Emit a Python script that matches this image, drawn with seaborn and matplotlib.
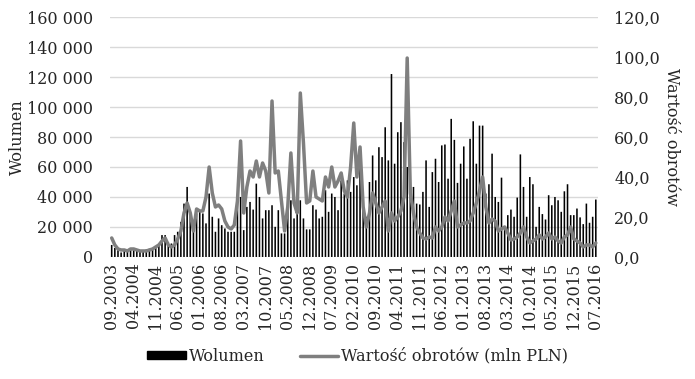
import pandas as pd
import numpy as np
import seaborn as sns
import matplotlib.pyplot as plt
from matplotlib.ticker import FuncFormatter
from matplotlib.patches import Patch
from matplotlib.lines import Line2D

# wolumen miesięczny (tys. szt.)
wolumen_tys = [
    8.0, 6.0, 4.5, 3.0, 4.0, 3.5, 5.0, 4.5, 4.0, 4.0, 3.5, 5.0, 5.5, 5.0, 7.0, 9.0,
    14.6, 14.6, 10.0, 9.0, 14.6, 16.8, 23.4, 35.6, 46.7, 29.0,
    17.9, 29.0, 30.1, 29.0, 22.4, 42.3, 26.8, 16.8, 25.7, 21.2,
    19.0, 16.8, 16.8, 16.8, 39.0, 40.0, 17.9, 33.4, 36.7, 31.6,
    48.9, 40.0, 25.7, 31.2, 31.2, 34.5, 20.1, 31.2,
    15.7, 15.7, 33.4, 37.8, 25.7, 34.5, 37.8, 25.7, 18.4, 18.4,
    34.5, 31.6, 25.7, 26.8, 44.5, 30.1, 42.3, 40.0, 31.2, 51.1,
    42.3, 51.1, 43.4, 53.3, 47.8, 64.4, 33.4, 26.8, 50.0, 67.7,
    51.1, 73.2, 66.6, 86.5, 64.4, 122.0, 62.2, 83.2, 89.9, 76.6,
    60.0, 41.2, 46.7, 35.6, 35.0, 43.4, 64.4, 33.4, 56.6, 65.5,
    50.0, 74.4, 75.0, 52.2, 92.1, 78.1, 49.4, 62.2, 73.7, 52.2,
    78.8, 90.5, 62.2, 87.6, 87.6, 42.3, 48.5, 68.9, 40.0, 36.7,
    52.9, 20.6, 27.9, 31.6, 26.8, 39.6, 68.4, 46.7, 26.8, 53.3,
    48.5, 20.1, 33.4, 28.6, 25.0, 41.2, 34.5, 40.0, 37.8, 30.1,
    43.8, 48.5, 27.9, 27.9, 32.3, 26.4, 21.9, 35.6, 22.8, 26.8, 38.3,
]

# wartość obrotów (mln PLN)
obroty = [
    9.5, 6, 4, 3.5, 3.5, 3, 4, 4, 3.5, 3,
    3, 3, 3.5, 4, 5, 6, 8, 9.5, 6, 5,
    6, 9, 13, 22, 27, 22, 13, 24, 23, 23,
    30, 45, 32, 25, 26, 24, 18, 15, 14, 16,
    28, 58, 22, 35, 43, 40, 48, 40, 47, 43,
    32, 78, 42, 43, 28, 13, 25, 52, 27, 22,
    82, 57, 27, 28, 43, 30, 29, 28, 40, 35,
    45, 35, 38, 42, 33, 30, 45, 67, 40, 55,
    25, 15, 22, 32, 27, 22, 25, 28, 13, 22,
    18, 20, 23, 30, 99.5, 32, 22, 15, 12, 9.5,
    9, 10, 9.5, 15, 13, 15, 20, 18, 23, 28,
    15, 16, 17, 17, 18, 22, 27, 33, 40, 25,
    17, 19, 18, 13, 14, 15, 12, 8.5, 9, 10,
    12, 15, 10, 7, 8, 9, 11, 9, 10, 12,
    9, 10, 8, 7, 10, 11, 15, 9, 8, 7,
    5, 6, 6, 5, 7,
]

miesiace = pd.date_range("2003-09-01", periods=len(wolumen_tys), freq="MS").strftime("%m.%Y")

df = pd.DataFrame({
    "miesiac": miesiace,
    "wolumen": np.array(wolumen_tys) * 1000,
    "obroty": obroty,
})
df["poz"] = df.index

sns.set_theme(style="white")
plt.rcParams["font.family"] = ["DejaVu Serif"]
fs = 11.5

fig, ax = plt.subplots(figsize=(6.95, 3.79), dpi=100)
fig.subplots_adjust(left=0.158, right=0.860, top=0.955, bottom=0.322)

sns.barplot(data=df, x="miesiac", y="wolumen", color="black", width=0.5,
            saturation=1, linewidth=0, snap=False, ax=ax, zorder=2)
ax.set_ylim(0, 160000)
ax.set_yticks(range(0, 160001, 20000))
ax.yaxis.set_major_formatter(FuncFormatter(lambda v, p: f"{int(v):,}".replace(",", " ")))
ax.grid(axis="y", color="#d9d9d9", linewidth=1, zorder=0)
ax.set_axisbelow(True)

ticks = list(range(0, len(df), 7))
ax.set_xticks(ticks)
ax.set_xticklabels([df["miesiac"][i] for i in ticks], rotation=90, fontsize=fs)
ax.set_xlim(-0.6, len(df) - 0.4)
ax.tick_params(axis="y", labelsize=fs, length=0, pad=12)
ax.tick_params(axis="x", length=0, pad=4)
ax.set_xlabel("")
ax.set_ylabel("Wolumen", fontsize=fs, labelpad=1)

ax2 = ax.twinx()
sns.lineplot(data=df, x="poz", y="obroty", color="#7f7f7f", linewidth=2.5, ax=ax2)
ax2.set_ylim(0, 120)
ax2.set_yticks(range(0, 121, 20))
ax2.yaxis.set_major_formatter(FuncFormatter(lambda v, p: f"{v:.1f}".replace(".", ",")))
ax2.tick_params(axis="y", labelsize=fs, length=0, pad=12)
ax2.set_ylabel("Wartość obrotów", fontsize=fs, rotation=270, labelpad=14)
ax2.set_xlabel("")

for a in (ax, ax2):
    for s in a.spines.values():
        s.set_visible(False)

handles = [Patch(facecolor="black", edgecolor="black"),
           Line2D([0], [0], color="#7f7f7f", linewidth=2.5)]
fig.legend(handles, ["Wolumen", "Wartość obrotów (mln PLN)"], loc="lower center",
           bbox_to_anchor=(0.515, 0.0), ncol=2, frameon=False, fontsize=fs,
           handlelength=2.4, handleheight=0.4, handletextpad=0.2, columnspacing=2.2)

fig.savefig("out.png", dpi=100)
